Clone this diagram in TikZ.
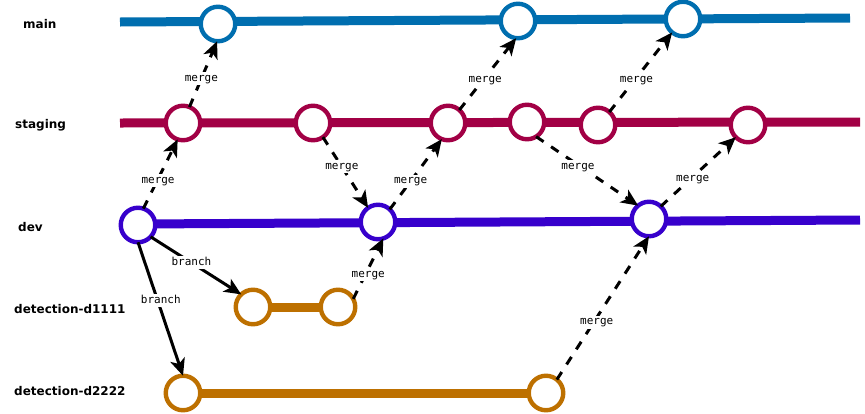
\documentclass[tikz,border=0pt]{standalone}
\usepackage{fontspec}
\setmainfont{DejaVu Sans}
\setmonofont{DejaVu Sans Mono}
\usetikzlibrary{arrows.meta}
\definecolor{cmain}{HTML}{006EAF}
\definecolor{cstag}{HTML}{A20045}
\definecolor{cdev}{HTML}{3700CC}
\definecolor{cdet}{HTML}{BD7000}
\tikzset{
  x=1pt,y=-1pt,
  commit/.style={circle,draw=#1,fill=white,line width=4.4pt,minimum size=34.5pt,inner sep=0pt,outer sep=0pt},
  lane/.style={draw=#1,line width=9pt},
  lanename/.style={font=\bfseries\fontsize{12}{14}\selectfont,text=black,inner sep=0pt,anchor=west},
  conn/.style={draw=black,line width=3pt,-{Stealth[length=17pt,width=15pt,inset=4.5pt]}},
  mergeconn/.style={conn,dash pattern=on 9pt off 9pt},
  edgelabel/.style={font=\ttfamily\fontsize{11}{12}\selectfont,fill=white,inner sep=1.5pt,text height=7.5pt,text depth=2.5pt,text=black},
}
\begin{document}
\begin{tikzpicture}
\useasboundingbox (0,0) rectangle (865,413);
\fill[white] (0,0) rectangle (865,413);
\coordinate (mS) at (120,22); \coordinate (mE) at (850,18);
\coordinate (sS) at (120,123); \coordinate (sE) at (860,122);
\coordinate (dE) at (860,220);
\node[lanename] (lmain) at (23,24) {main};
\node[lanename] (lstag) at (15,125) {staging};
\node[lanename] (ldev) at (18,227) {dev};
\node[lanename] (la) at (14,309) {detection-d1111};
\node[lanename] (lb) at (14,391) {detection-d2222};
\path[lane=cmain] (mS) -- (mE);
\path[lane=cstag] (sS) -- (sE);
\coordinate (d0) at (138,224);
\path[lane=cdev] (d0) -- (dE);
\coordinate (a1c) at (253,307); \coordinate (a2c) at (338,307);
\path[lane=cdet] (a1c) -- (a2c);
\coordinate (b1c) at (183,393); \coordinate (b2c) at (546,393);
\path[lane=cdet] (b1c) -- (b2c);
\node[commit=cmain] (m1) at (218,24) {};
\node[commit=cmain] (m2) at (518,21) {};
\node[commit=cmain] (m3) at (683,19) {};
\node[commit=cstag] (s1) at (183,123) {};
\node[commit=cstag] (s2) at (313,123) {};
\node[commit=cstag] (s3) at (448,123) {};
\node[commit=cstag] (s4) at (527,122) {};
\node[commit=cstag] (s5) at (598,125) {};
\node[commit=cstag] (s6) at (748,125) {};
\node[commit=cdev] (d1) at (138,225) {};
\node[commit=cdev] (d2) at (378,222) {};
\node[commit=cdev] (d3) at (649,219) {};
\node[commit=cdet] (a1) at (253,307) {};
\node[commit=cdet] (a2) at (338,307) {};
\node[commit=cdet] (b1) at (183,393) {};
\node[commit=cdet] (b2) at (546,393) {};
\path[mergeconn] (d1.72) -- node[edgelabel,pos=.4,xshift=1pt] {merge} (s1.-108);
\path[mergeconn] (s1.68) -- node[edgelabel,pos=.43] {merge} (m1.-93);
\path[mergeconn] (s2.-55) -- node[edgelabel,pos=.42] {merge} (d2.125);
\path[mergeconn] (d2.47) -- node[edgelabel,pos=.4] {merge} (s3.-111);
\path[mergeconn] (s3.49) -- node[edgelabel,pos=.42,xshift=2pt] {merge} (m2.-96);
\path[mergeconn] (s4.-58) -- node[edgelabel,pos=.44,xshift=-3pt] {merge} (d3.129);
\path[mergeconn] (s5.49) -- node[edgelabel,pos=.4,xshift=2pt] {merge} (m3.-129);
\path[mergeconn] (d3.47) -- node[edgelabel,pos=.4,xshift=2pt] {merge} (s6.-135);
\path[mergeconn] (a2.28) -- node[edgelabel,pos=.4,xshift=3pt] {merge} (d2.-72);
\path[mergeconn] (b2.51) -- node[edgelabel,pos=.4,xshift=3pt] {merge} (d3.-90);
\path[conn] (d1.-43) -- node[edgelabel,pos=.45] {branch} (a1.133);
\path[conn] (d1.-90) -- node[edgelabel,pos=.44,xshift=3pt] {branch} (b1.90);
\end{tikzpicture}
\end{document}
